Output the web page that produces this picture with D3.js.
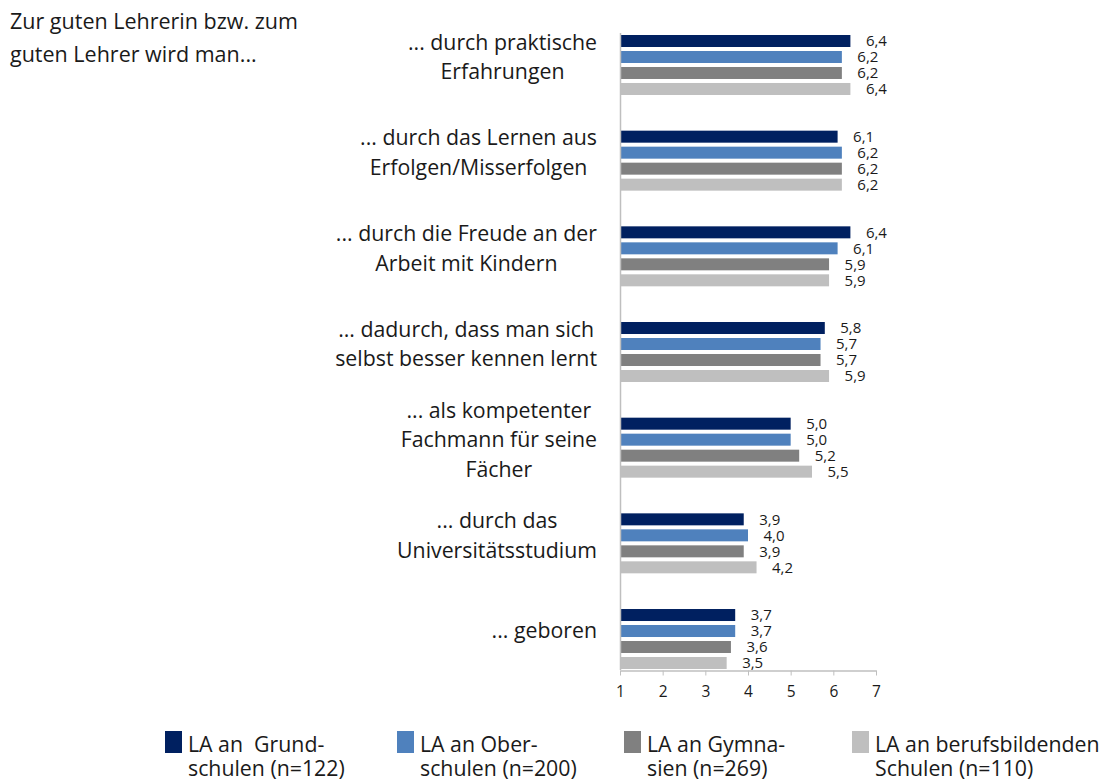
<!DOCTYPE html>
<html>
<head>
<meta charset="utf-8">
<script src="https://cdn.jsdelivr.net/npm/d3@7"></script>
<style>
  body { margin: 0; background: #fff; }
  svg text { font-family: "Open Sans", sans-serif; fill: #1a1a1a; }
</style>
</head>
<body>
<div id="chart"></div>
<script>
// categories (line-broken as in the original)
const CATEGORIES = [
  ['... durch praktische', 'Erfahrungen'],
  ['... durch das Lernen aus', 'Erfolgen/Misserfolgen'],
  ['... durch die Freude an der', 'Arbeit mit Kindern'],
  ['... dadurch, dass man sich', 'selbst besser kennen lernt'],
  ['... als kompetenter', 'Fachmann für seine', 'Fächer'],
  ['... durch das', 'Universitätsstudium'],
  ['... geboren']
]
const SERIES = ['grund', 'ober', 'gym', 'beruf']
const SERIES_LABELS = [
  ['LA an  Grund-', 'schulen (n=122)'],
  ['LA an Ober-', 'schulen (n=200)'],
  ['LA an Gymna-', 'sien (n=269)'],
  ['LA an berufsbildenden', 'Schulen (n=110)']
]
const GRUND = [6.4, 6.1, 6.4, 5.8, 5.0, 3.9, 3.7]
const OBER  = [6.2, 6.2, 6.1, 5.7, 5.0, 4.0, 3.7]
const GYM   = [6.2, 6.2, 5.9, 5.7, 5.2, 3.9, 3.6]
const BERUF = [6.4, 6.2, 5.9, 5.9, 5.5, 4.2, 3.5]
const X_TICKS = [1, 2, 3, 4, 5, 6, 7]
const TITLE = ['Zur guten Lehrerin bzw. zum', 'guten Lehrer wird man...']

const COLORS = ['#002060', '#4f81bd', '#808080', '#bfbfbf']
const VALUES = [GRUND, OBER, GYM, BERUF]

const W = 1102, H = 783
const svg = d3.select('#chart').append('svg').attr('width', W).attr('height', H)

const x = d3.scaleLinear().domain([1, 7]).range([620, 876])
const y = d3.scaleBand()
  .domain(d3.range(CATEGORIES.length))
  .range([35, 669])
  .paddingInner(0.373)
  .paddingOuter(0)
const ySub = d3.scaleBand()
  .domain(SERIES)
  .range([0, y.bandwidth()])
  .paddingInner(0.25)
  .paddingOuter(0)

// title
svg.append('text')
  .attr('x', 10).attr('y', 29)
  .attr('font-size', 21.5)
  .selectAll('tspan').data(TITLE).join('tspan')
  .attr('x', 10).attr('dy', (d, i) => i ? 33 : 0)
  .text(d => d)

// bars
const groups = svg.append('g').selectAll('g')
  .data(CATEGORIES.map((c, i) => i))
  .join('g')
  .attr('transform', i => `translate(0,${y(i)})`)

groups.selectAll('rect')
  .data(i => SERIES.map((s, k) => ({ s, k, v: VALUES[k][i] })))
  .join('rect')
  .attr('x', x(1))
  .attr('y', d => ySub(d.s))
  .attr('width', d => x(d.v) - x(1))
  .attr('height', ySub.bandwidth())
  .attr('fill', d => COLORS[d.k])

// value labels (tightly stacked, as in the original)
groups.selectAll('text.val')
  .data(i => SERIES.map((s, k) => ({ s, k, v: VALUES[k][i] })))
  .join('text')
  .attr('class', 'val')
  .attr('x', d => x(d.v) + 15.5)
  .attr('y', d => ySub(d.s) + ySub.bandwidth() / 2)
  .attr('dy', '0.36em')
  .attr('font-size', 15)
  .text(d => d.v.toFixed(1).replace('.', ','))

// category labels: centred block, widest line ends at the right edge
const LABEL_RIGHT = 597
const LINE_H = 29.5
CATEGORIES.forEach((lines, i) => {
  const cy = y(i) + y.bandwidth() / 2 - 8
  const t = svg.append('text')
    .attr('font-size', 21.3)
    .attr('text-anchor', 'middle')
  const spans = t.selectAll('tspan').data(lines).join('tspan')
    .text(d => d)
  const maxW = d3.max(spans.nodes(), n => n.getComputedTextLength())
  const cx = LABEL_RIGHT - maxW / 2
  spans.attr('x', cx)
    .attr('dy', (d, j) => j ? LINE_H : '0.35em')
  t.attr('y', cy - (lines.length - 1) * LINE_H / 2)
})

// axes
svg.append('line')
  .attr('x1', x(1) + 0.5).attr('x2', x(1) + 0.5)
  .attr('y1', 33).attr('y2', 670)
  .attr('stroke', '#bfbfbf').attr('stroke-width', 1.5)

const xAxis = svg.append('g')
  .attr('transform', 'translate(0,670.5)')
  .call(d3.axisBottom(x).tickValues(X_TICKS).tickFormat(d3.format('d'))
    .tickSize(5).tickSizeOuter(0).tickPadding(10))
xAxis.select('.domain').attr('stroke', '#bfbfbf').attr('stroke-width', 1.5)
xAxis.selectAll('line').attr('stroke', '#bfbfbf')
xAxis.selectAll('text')
  .attr('font-size', 15.5)
  .attr('font-family', '"Open Sans", sans-serif')
  .attr('fill', '#1a1a1a')

// legend
const LEGEND_X = [165, 397, 624, 852]
const legend = svg.append('g')
SERIES_LABELS.forEach((lines, k) => {
  const lx = LEGEND_X[k]
  legend.append('rect')
    .attr('x', lx).attr('y', 731)
    .attr('width', 17).attr('height', 22)
    .attr('fill', COLORS[k])
  legend.append('text')
    .attr('font-size', 21.3)
    .style('white-space', 'pre')
    .selectAll('tspan').data(lines).join('tspan')
    .attr('x', lx + 23)
    .attr('y', (d, j) => 752 + j * 24)
    .text(d => d)
})
</script>
</body>
</html>
